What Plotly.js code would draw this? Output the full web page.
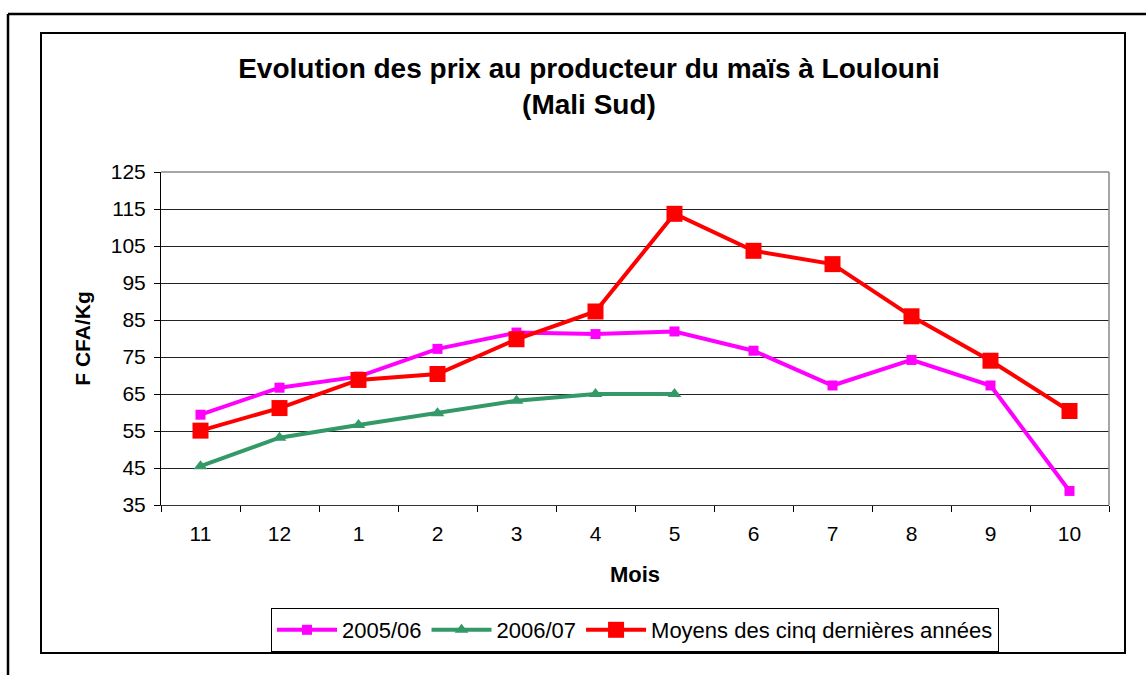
<!DOCTYPE html>
<html>
<head>
<meta charset="utf-8">
<script src="https://cdn.plot.ly/plotly-3.0.1.min.js"></script>
<style>html,body{margin:0;padding:0;background:#fff;}#chart{width:1146px;height:675px;}</style>
</head>
<body>
<div id="chart"></div>
<script>
const months = ["11","12","1","2","3","4","5","6","7","8","9","10"];
const prix2005 = [59.4, 66.7, 69.7, 77.2, 81.6, 81.2, 81.9, 76.7, 67.3, 74.2, 67.3, 38.8];
const prix2006 = [45.5, 53.2, 56.6, 59.8, 63.2, 65, 65];
const moyens = [55.1, 61.2, 68.8, 70.4, 79.8, 87.3, 113.7, 103.7, 100.1, 86, 74, 60.4];
const yTicks = [35, 45, 55, 65, 75, 85, 95, 105, 115, 125];
const seriesNames = ["2005/06", "2006/07", "Moyens des cinq dernières années"];

const FONT = "Liberation Sans, Arial, sans-serif";
const L = 161, R = 1109, T = 172, B = 505;
const px = x => (x - L) / (R - L);
const py = y => (B - y) / (B - T);

const traces = [
  {x: months, y: prix2005, name: seriesNames[0], type: "scatter", mode: "lines+markers",
   line: {color: "#FF00FF", width: 4}, marker: {symbol: "square", size: 10, color: "#FF00FF"}},
  {x: months.slice(0, prix2006.length), y: prix2006, name: seriesNames[1], type: "scatter", mode: "lines+markers",
   line: {color: "#339966", width: 4}, marker: {symbol: "triangle-up", size: 12, color: "#339966"}},
  {x: months, y: moyens, name: seriesNames[2], type: "scatter", mode: "lines+markers",
   line: {color: "#FF0000", width: 4}, marker: {symbol: "square", size: 16, color: "#FF0000"}}
];

const layout = {
  width: 1146, height: 675,
  margin: {l: L, r: 1146 - R, t: T, b: 675 - B, pad: 0},
  paper_bgcolor: "#fff", plot_bgcolor: "#fff",
  showlegend: true,
  font: {family: FONT, color: "#000", size: 20},
  title: {
    text: "<b>Evolution des prix au producteur du maïs à Loulouni<br>(Mali Sud)</b>",
    font: {family: FONT, size: 28, color: "#000"},
    x: 589 / 1146, xanchor: "center", xref: "container",
    y: 1 - 78 / 675, yanchor: "middle", yref: "container"
  },
  xaxis: {
    type: "category", categoryorder: "array", categoryarray: months,
    range: [-0.5, months.length - 0.5], autorange: false,
    tickson: "boundaries", ticks: "outside", ticklen: 6, tickcolor: "#000", tickwidth: 1,
    ticklabelstandoff: 10,
    showline: true, linecolor: "#333", linewidth: 1, showgrid: false, zeroline: false,
    tickfont: {family: FONT, size: 21, color: "#000"},
    title: {text: "<b>Mois</b>", font: {family: FONT, size: 22, color: "#000"}, standoff: 22},
    fixedrange: true
  },
  yaxis: {
    range: [35, 125], autorange: false, tickvals: yTicks, ticktext: yTicks.map(String),
    ticks: "outside", ticklen: 6, tickcolor: "#000", tickwidth: 1,
    ticklabelstandoff: 4,
    showline: true, linecolor: "#000", linewidth: 1,
    showgrid: true, gridcolor: "#222", gridwidth: 1, zeroline: false,
    tickfont: {family: FONT, size: 21, color: "#000"},
    title: {text: "<b>F CFA/Kg</b>", font: {family: FONT, size: 21, color: "#000"}, standoff: 14},
    fixedrange: true
  },
  legend: {
    orientation: "h", x: 0.5, xanchor: "center", y: py(630), yanchor: "middle",
    bordercolor: "#000", borderwidth: 1, bgcolor: "#fff",
    font: {family: FONT, size: 22, color: "#000"}, itemwidth: 60, tracegroupgap: 0
  },
  shapes: [
    {type: "line", xref: "paper", yref: "paper", x0: 0, x1: 1, y0: 1, y1: 1, line: {color: "#888", width: 1.5}},
    {type: "line", xref: "paper", yref: "paper", x0: 1, x1: 1, y0: 0, y1: 1, line: {color: "#888", width: 1.5}},
    {type: "rect", xref: "paper", yref: "paper", x0: px(41), x1: px(1125), y0: py(653), y1: py(33),
     line: {color: "#000", width: 2}},
    {type: "line", xref: "paper", yref: "paper", x0: px(8), x1: px(1146), y0: py(14), y1: py(14), line: {color: "#000", width: 2.5}},
    {type: "line", xref: "paper", yref: "paper", x0: px(8), x1: px(8), y0: py(14), y1: py(680), line: {color: "#000", width: 2.5}}
  ]
};

Plotly.newPlot("chart", traces, layout, {displayModeBar: false, staticPlot: true});
</script>
</body>
</html>
